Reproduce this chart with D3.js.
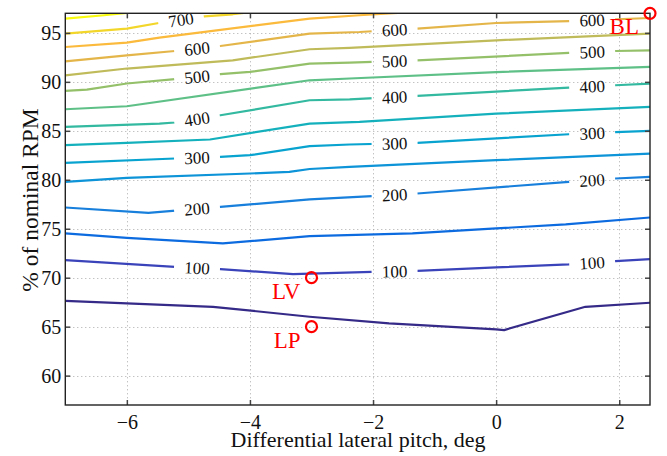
<!DOCTYPE html>
<html><head><meta charset="utf-8">
<script src="https://cdn.jsdelivr.net/npm/d3@7"></script>
<style>
body{margin:0;background:#fff}
svg{display:block}
text{font-family:"Liberation Serif","Times New Roman",serif}
</style>
</head><body>
<svg id="c" width="667" height="456"></svg>
<script>
// ---------- data ----------
const levels = [50,100,150,200,250,300,350,400,450,500,550,600,650,700,750];
const xTicks = [-6,-4,-2,0,2];
const yTicks = [60,65,70,75,80,85,90,95];
const lineColors = ["#352a87","#3a43b9","#0d6be0","#1880dc","#0d93d7","#09a3d0","#14b1bd","#33b9a0","#5fc087","#94c06a","#c0bb5a","#e4b64a","#fbba3c","#f3d62a","#f9fb0e"];

const line50  = [[-7,67.64],[-6.0,67.38],[-4.6,67.03],[-3.03,66.01],[-1.74,65.34],[0.0,64.72],[0.13,64.65],[1.45,67.03],[2.5,67.44]];
const line100 = [[-7,71.8],[-5.22,71.11],[-4.48,70.88],[-3.3,70.37],[-2.02,70.6],[-1.28,70.7],[0.0,71.05],[1.18,71.36],[1.94,71.69],[2.5,71.9]];
const line150 = [[-7,74.52],[-6.0,74.07],[-4.44,73.5],[-3.03,74.24],[-1.36,74.52],[0.0,75.03],[1.13,75.44],[2.5,76.15]];
const line200 = [[-7,77.17],[-5.65,76.62],[-4.48,77.23],[-3.03,78.0],[-2.02,78.33],[-1.28,78.6],[1.18,79.79],[1.94,80.13],[2.5,80.3]];
const line250 = [[-7,79.79],[-6.0,80.19],[-4.0,80.64],[-3.36,80.81],[-3.03,81.1],[-2.38,81.32],[0.0,82.0],[2.5,82.68]];
const line300 = [[-7,81.72],[-5.22,82.17],[-4.48,82.34],[-4.0,82.51],[-3.03,83.43],[-2.38,83.6],[-1.28,83.77],[1.18,84.65],[1.94,84.86],[2.5,84.99]];
const line350 = [[-7,83.53],[-6.0,83.77],[-4.65,84.11],[-3.03,85.74],[-2.22,85.91],[0.0,86.75],[2.5,87.44]];
const line400 = [[-7,85.4],[-5.47,85.74],[-5.22,85.85],[-4.48,86.59],[-3.03,88.12],[-2.38,88.22],[-1.28,88.56],[1.18,89.42],[1.94,89.65],[2.5,89.82]];
const line450 = [[-7,87.2],[-6.0,87.51],[-3.03,90.16],[-2.38,90.34],[0.0,91.0],[2.5,91.52]];
const line500 = [[-7,89.07],[-6.65,89.21],[-6.0,89.83],[-5.22,90.27],[-4.48,90.78],[-4.0,91.01],[-3.03,91.87],[-2.38,91.97],[-1.28,92.2],[1.18,92.95],[1.94,93.15],[2.5,93.22]];
const line550 = [[-7,90.67],[-6.0,91.36],[-4.28,92.2],[-3.03,93.33],[-2.38,93.46],[0.0,94.24],[2.5,94.93]];
const line600 = [[-7,92.1],[-6.0,92.71],[-5.22,93.15],[-4.48,93.66],[-3.03,94.93],[-2.22,95.09],[-1.28,95.44],[0.0,96.01],[1.18,96.21],[2.5,96.52]];
const line650 = [[-7,93.56],[-6.0,94.01],[-5.47,94.52],[-3.03,96.46],[-2.22,96.8],[-1.6,97.05]];
const line700 = [[-7,94.93],[-6.0,95.44],[-5.48,96.01],[-4.74,96.69],[-4.28,96.9],[-4.1,97.05]];
const line750 = [[-7,96.45],[-6.37,96.8],[-6.0,97.05]];
const contourLines = [line50,line100,line150,line200,line250,line300,line350,line400,line450,line500,line550,line600,line650,line700,line750];

const labelLevels = [700,600,500,400,300,200,100, 600,500,400,300,200,100, 600,500,400,300,200,100];
const labelXs     = [-5.12,-4.86,-4.86,-4.86,-4.86,-4.86,-4.86, -1.65,-1.65,-1.65,-1.65,-1.65,-1.65, 1.56,1.56,1.56,1.56,1.56,1.56];

const markerNames = ["BL","LV","LP"];
const markerXs = [2.5,-3,-3];
const markerYs = [97,70,65];

const xTitle = "Differential lateral pitch, deg";
const yTitle = "% of nominal RPM";

// ---------- layout ----------
const svg = d3.select("#c");
const L = 65.3, R = 650, T = 13.3, B = 405;
const x = d3.scaleLinear().domain([-7,2.5]).range([L,R]);
const y = d3.scaleLinear().domain([57,97]).range([B,T]);

const defs = svg.append("defs");
defs.append("clipPath").attr("id","plotclip").append("rect")
  .attr("x",L).attr("y",T).attr("width",R-L).attr("height",B-T);

// grid
const grid = svg.append("g").attr("stroke","#aaaaaa").attr("stroke-width",1).attr("stroke-dasharray","1,3");
grid.selectAll(".gx").data(xTicks).join("line")
  .attr("x1",d=>Math.round(x(d))+0.5).attr("x2",d=>Math.round(x(d))+0.5).attr("y1",T).attr("y2",B);
grid.selectAll(".gy").data(yTicks).join("line")
  .attr("y1",d=>Math.round(y(d))+0.5).attr("y2",d=>Math.round(y(d))+0.5).attr("x1",L).attr("x2",R);

// label geometry
function interpY(pts, x0){
  for (let i=0;i<pts.length-1;i++){
    const [xa,ya]=pts[i],[xb,yb]=pts[i+1];
    if (x0>=xa && x0<=xb) return ya+(yb-ya)*(x0-xa)/(xb-xa);
  }
  return pts[pts.length-1][1];
}
const labels = labelLevels.map((lev,i)=>{
  const pts = contourLines[levels.indexOf(lev)];
  const x0 = labelXs[i];
  const px = x(x0), py = y(interpY(pts,x0));
  const xa = x0-0.3, xb = x0+0.3;
  const ang = Math.atan2(y(interpY(pts,xb))-y(interpY(pts,xa)), x(xb)-x(xa))*180/Math.PI;
  return {lev, px, py, ang};
});

const mask = defs.append("mask").attr("id","lblmask").attr("maskUnits","userSpaceOnUse")
  .attr("x",0).attr("y",0).attr("width",667).attr("height",456);
mask.append("rect").attr("width",667).attr("height",456).attr("fill","white");
mask.selectAll(".m").data(labels).join("rect")
  .attr("x",-23).attr("y",-9).attr("width",46).attr("height",18).attr("fill","black")
  .attr("transform",d=>`translate(${d.px},${d.py}) rotate(${d.ang})`);

// contour lines
const lineGen = d3.line().x(d=>x(d[0])).y(d=>y(d[1]));
const lg = svg.append("g").attr("clip-path","url(#plotclip)").append("g").attr("mask","url(#lblmask)");
lg.selectAll("path").data(contourLines).join("path")
  .attr("d",lineGen).attr("fill","none")
  .attr("stroke",(d,i)=>lineColors[i]).attr("stroke-width",2.2)
  .attr("stroke-linejoin","round");

// contour labels
svg.append("g").selectAll("text").data(labels).join("text")
  .attr("transform",d=>`translate(${d.px},${d.py}) rotate(${d.ang})`)
  .attr("text-anchor","middle").attr("dy","0.35em")
  .attr("font-size",17).attr("fill","#111")
  .text(d=>d.lev);

// axes
const fmt = d=> d<0 ? "\u2212"+(-d) : String(d);
const ax = svg.append("g").attr("class","axes");
ax.append("g").attr("transform",`translate(0,${B})`)
  .call(d3.axisBottom(x).tickValues(xTicks).tickSizeInner(-5).tickSizeOuter(0).tickPadding(9.5).tickFormat(fmt));
ax.append("g").attr("transform",`translate(0,${T})`)
  .call(d3.axisTop(x).tickValues(xTicks).tickSizeInner(-5).tickSizeOuter(0).tickFormat(""));
ax.append("g").attr("transform",`translate(${L},0)`)
  .call(d3.axisLeft(y).tickValues(yTicks).tickSizeInner(-5).tickSizeOuter(0).tickPadding(4).tickFormat(d=>d));
ax.append("g").attr("transform",`translate(${R},0)`)
  .call(d3.axisRight(y).tickValues(yTicks).tickSizeInner(-5).tickSizeOuter(0).tickFormat(""));
ax.selectAll(".domain").remove();
ax.selectAll(".tick line").attr("stroke","#444").attr("stroke-width",1.5);
ax.selectAll(".tick text").attr("font-size",20).attr("fill","#111");

svg.append("rect").attr("x",L).attr("y",T).attr("width",R-L).attr("height",B-T)
  .attr("fill","none").attr("stroke","#222").attr("stroke-width",1.4);

// titles
svg.append("text").attr("x",358).attr("y",447).attr("text-anchor","middle")
  .attr("font-size",22).attr("fill","#111").text(xTitle);
svg.append("text").attr("transform","translate(38,200) rotate(-90)").attr("text-anchor","middle")
  .attr("font-size",23.5).attr("fill","#111").text(yTitle);

// markers
const mk = svg.append("g");
mk.selectAll("circle").data(markerNames).join("circle")
  .attr("cx",(d,i)=>x(markerXs[i])).attr("cy",(d,i)=>y(markerYs[i])).attr("r",5.5)
  .attr("fill","none").attr("stroke","#ff0000").attr("stroke-width",2.2);
mk.selectAll("text").data(markerNames).join("text")
  .attr("x",(d,i)=>x(markerXs[i])-11).attr("y",(d,i)=>y(markerYs[i])+21)
  .attr("text-anchor","end").attr("font-size",23).attr("fill","#ff0000").text(d=>d);
</script>
</body></html>
